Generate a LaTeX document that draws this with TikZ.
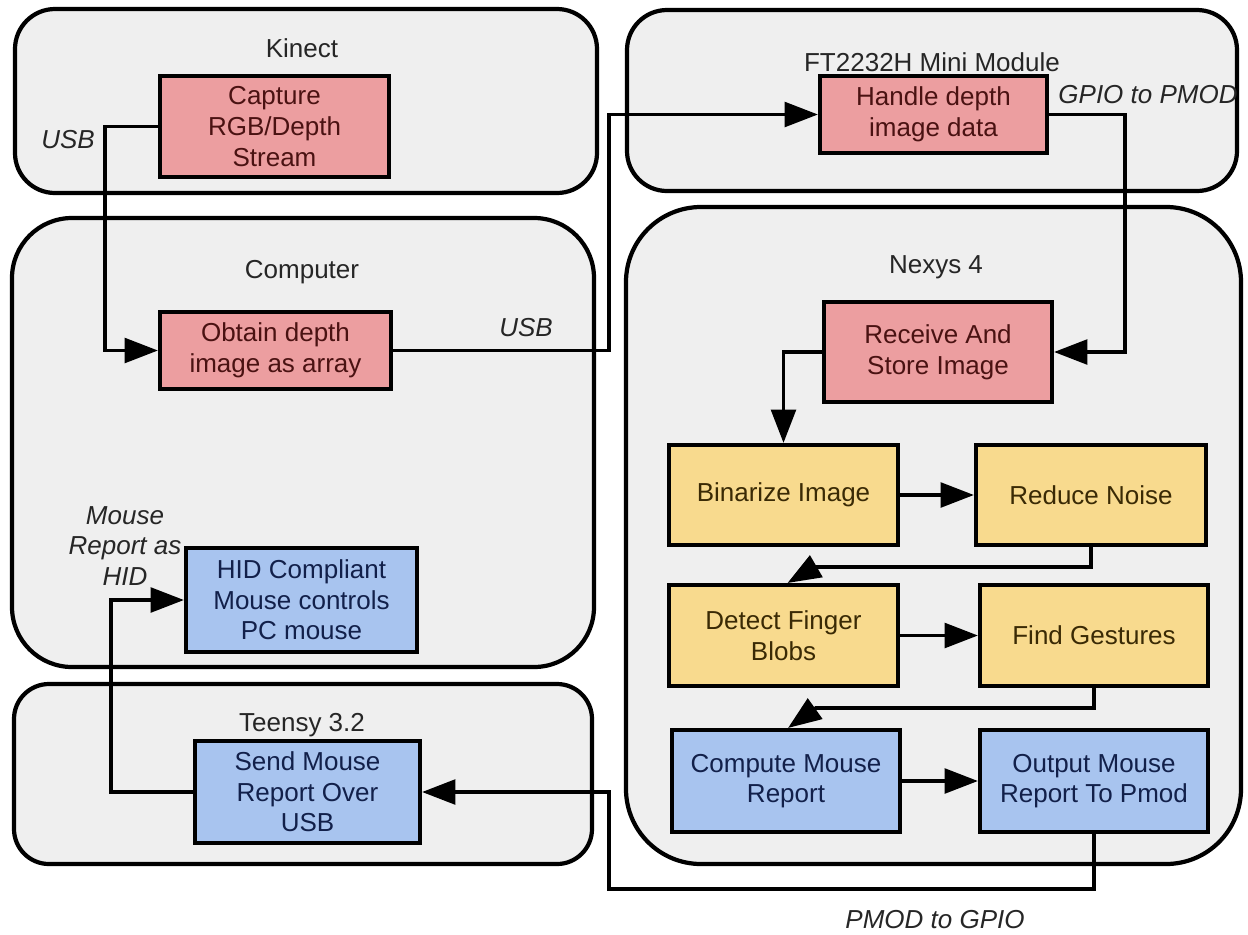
\documentclass[tikz,border=0pt]{standalone}
\usepackage{fontspec}
\setmainfont{Liberation Sans}
\usetikzlibrary{arrows.meta}
\definecolor{contfill}{HTML}{EFEFEF}
\definecolor{redfill}{HTML}{EC9EA0}
\definecolor{yelfill}{HTML}{F8DA8E}
\definecolor{bluefill}{HTML}{A8C4EF}
\definecolor{redtxt}{HTML}{4A1212}
\definecolor{yeltxt}{HTML}{3A2A05}
\definecolor{bluetxt}{HTML}{12204A}
\tikzset{
  cont/.style={draw=black, line width=2.4pt, fill=contfill, inner sep=0pt},
  box/.style={draw=black, line width=2.3pt, inner sep=2pt, align=center,
     font=\fontsize{14.8}{17.4}\selectfont},
  redbox/.style={box, fill=redfill, text=redtxt},
  yelbox/.style={box, fill=yelfill, text=yeltxt},
  bluebox/.style={box, fill=bluefill, text=bluetxt},
  title/.style={font=\fontsize{14.8}{17.4}\selectfont, text=black!85},
  lbl/.style={font=\fontsize{14.8}{17.4}\selectfont\itshape, text=black!85, align=center},
  arr/.style={line width=2.2pt, -{Triangle[length=19pt,width=14pt]}}
}
\begin{document}
\begin{tikzpicture}[x=0.02cm,y=-0.02cm]
\useasboundingbox (0,0) rectangle (1248,934);
% containers
\node[cont, rounded corners=0.8cm, minimum width=582*0.02cm, minimum height=184*0.02cm] (kinect) at (306,101) {};
\node[cont, rounded corners=0.8cm, minimum width=610*0.02cm, minimum height=181*0.02cm] (ft) at (932,100.5) {};
\node[cont, rounded corners=1.2cm, minimum width=582*0.02cm, minimum height=449*0.02cm] (computer) at (303,442.5) {};
\node[cont, rounded corners=1.5cm, minimum width=615*0.02cm, minimum height=657*0.02cm] (nexys) at (933.5,535.5) {};
\node[cont, rounded corners=0.7cm, minimum width=578*0.02cm, minimum height=180*0.02cm] (teensy) at (303,774) {};
% titles
\node[title] (tkinect) at (302,48) {Kinect};
\node[title] (tft) at (932,62) {FT2232H Mini Module};
\node[title] (tcomputer) at (302,272) {Computer};
\node[title] (tnexys) at (936,267) {Nexys 4};
\node[title] (tteensy) at (302,725) {Teensy 3.2};
% boxes
\node[redbox, minimum width=229*0.02cm, minimum height=101*0.02cm] (cap) at (274.5,126.5) {Capture\\RGB/Depth\\Stream};
\node[redbox, minimum width=227*0.02cm, minimum height=77*0.02cm] (handle) at (933.5,114.5) {Handle depth\\image data};
\node[redbox, minimum width=231*0.02cm, minimum height=77*0.02cm] (obtain) at (275.5,350.5) {Obtain depth\\image as array};
\node[bluebox, minimum width=231*0.02cm, minimum height=104*0.02cm] (hid) at (301.5,600) {HID Compliant\\Mouse controls\\PC mouse};
\node[bluebox, minimum width=225*0.02cm, minimum height=102*0.02cm] (send) at (307.5,792) {Send Mouse\\Report Over\\USB};
\node[redbox, minimum width=228*0.02cm, minimum height=100*0.02cm] (receive) at (938,352) {Receive And\\Store Image};
\node[yelbox, minimum width=229*0.02cm, minimum height=100*0.02cm] (bin) at (783.5,495) {Binarize Image};
\node[yelbox, minimum width=230*0.02cm, minimum height=100*0.02cm] (reduce) at (1091,495) {Reduce Noise};
\node[yelbox, minimum width=229*0.02cm, minimum height=101*0.02cm] (detect) at (783.5,635.5) {Detect Finger\\Blobs};
\node[yelbox, minimum width=228*0.02cm, minimum height=101*0.02cm] (find) at (1094,635.5) {Find Gestures};
\node[bluebox, minimum width=228*0.02cm, minimum height=102*0.02cm] (compute) at (786,781) {Compute Mouse\\Report};
\node[bluebox, minimum width=228*0.02cm, minimum height=102*0.02cm] (output) at (1094,781) {Output Mouse\\Report To Pmod};
% labels
\node[lbl] (lusb1) at (68,140) {USB};
\node[lbl] (lgpio) at (1148,95) {GPIO to PMOD};
\node[lbl] (lusb2) at (526,328) {USB};
\node[lbl] (lhid) at (125,546) {Mouse\\Report as\\HID};
\node[lbl] (lpmod) at (935,920) {PMOD to GPIO};
% connector corner coordinates
\coordinate (c1) at (609,350.5);
\coordinate (c2) at (1125,114.5);
\coordinate (c3) at (815,567);
\coordinate (c4) at (816,708);
\coordinate (c5) at (609,889);
% connectors
\draw[arr] (cap.west) -- ++(-53,0) |- (obtain.west);
\draw[arr] (obtain.east) -- (c1) |- (handle.west);
\draw[arr] (handle.east) -- (c2) |- (receive.east);
\draw[arr] (receive.west) -| (bin.north);
\draw[arr] (bin.east) -- (reduce.west);
\draw[arr] (reduce.south) |- (c3) -- ([xshift=4*0.02cm]detect.north);
\draw[arr] (detect.east) -- (find.west);
\draw[arr] (find.south) |- (c4) -- ([xshift=2*0.02cm]compute.north);
\draw[arr] (compute.east) -- (output.west);
\draw[arr] (output.south) |- (c5) |- (send.east);
\draw[arr] (send.west) -- ++(-82,0) |- (hid.west);
\end{tikzpicture}
\end{document}
